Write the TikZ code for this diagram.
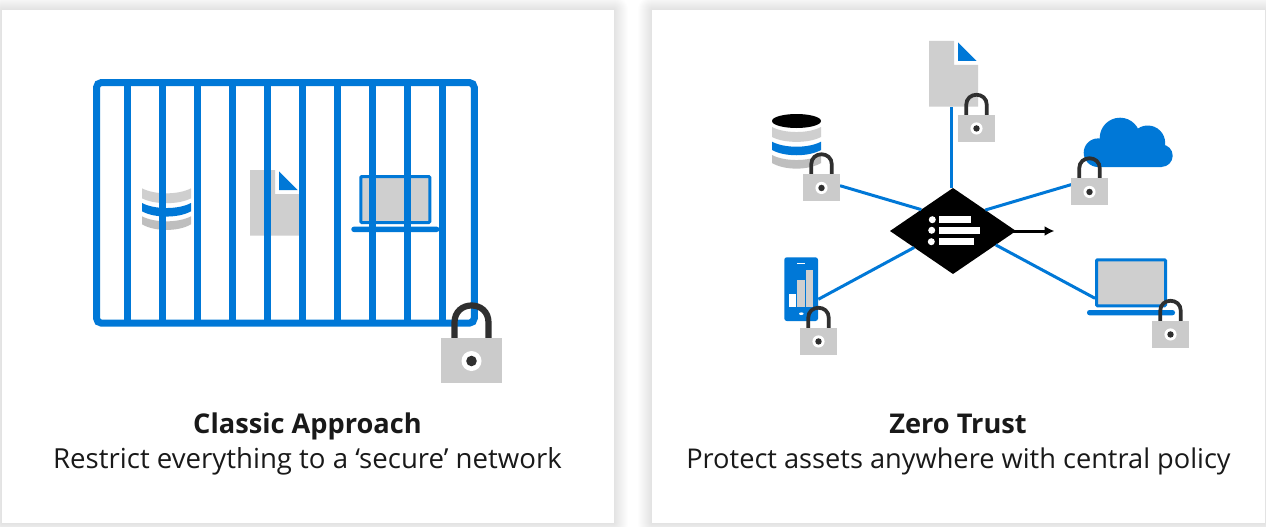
\documentclass[tikz,border=0pt]{standalone}
\usepackage{fontspec}
\setmainfont{Open Sans}
\usepackage{xcolor}
\usetikzlibrary{arrows.meta}
\usetikzlibrary{shapes.geometric}
\definecolor{azure}{HTML}{0078D7}
\definecolor{sheetgrey}{HTML}{CFCFCF}
\definecolor{lowgrey}{HTML}{BEBEBE}
\definecolor{lockgrey}{HTML}{CBCBCB}
\definecolor{shacklegrey}{HTML}{2F2F2F}
\tikzset{
	panel/.style={fill=white, inner sep=0pt},
	wire/.style={azure, line width=3pt},
	caption/.style={font=\fontsize{27.2}{30}\selectfont, text=black!90, inner sep=0pt, anchor=base},
}
% lock: x, y of top centre of body, scale
\newcommand{\padlock}[3]{
	\begin{scope}[shift={(#1,#2)}, scale=#3]
		\draw[shacklegrey, line width=#3*6.2pt] (-17,1) -- (-17,-15.5) .. controls (-17,-38.2) and (17,-38.2) .. (17,-15.5) -- (17,1);
		\fill[lockgrey] (-30.5,0) rectangle (30.5,44.5);
		\fill[white] (0,23) circle (10);
		\fill[shacklegrey] (0,23) circle (5.3);
	\end{scope}
}
% cylinder bands: x, y of top ellipse centre
\newcommand{\dbbands}[2]{
	\begin{scope}[shift={(#1,#2)}]
		\fill[sheetgrey] (-24.5,6) .. controls (-12,12.7) and (12,12.7) .. (24.5,6) -- (24.5,16) .. controls (12,22.5) and (-12,22.5) .. (-24.5,16) -- cycle;
		\fill[azure] (-24.5,20.7) .. controls (-12,27.4) and (12,27.4) .. (24.5,20.7) -- (24.5,29) .. controls (12,36) and (-12,36) .. (-24.5,29) -- cycle;
		\fill[lowgrey] (-24.5,34) .. controls (-12,40.7) and (12,40.7) .. (24.5,34) -- (24.5,42) .. controls (12,49.5) and (-12,49.5) .. (-24.5,42) -- cycle;
	\end{scope}
}
% page with folded corner: x, y of top left
\newcommand{\docsheet}[2]{
	\begin{scope}[shift={(#1,#2)}]
		\fill[sheetgrey] (0,0) -- (25,0) -- (25,24) -- (49,24) -- (49,65.5) -- (0,65.5) -- cycle;
		\fill[azure] (29,1.3) -- (29,20) -- (47.7,20) -- cycle;
	\end{scope}
}
% laptop: x, y of top left of screen
\newcommand{\laptopicon}[2]{
	\begin{scope}[shift={(#1,#2)}]
		\draw[azure, fill=sheetgrey, line width=3pt, rounded corners=1pt] (1.5,1.5) rectangle (70.5,47.5);
		\fill[azure, rounded corners=2.5pt] (-8,51.7) rectangle (80,57);
	\end{scope}
}

\begin{document}
\begin{tikzpicture}[x=1pt, y=-1pt]
	\useasboundingbox (0,0) rectangle (1266,527);
	% shadows
	\foreach \i in {1,...,14} {
		\fill[black, opacity=0.008, rounded corners=\i pt] (2-\i,10-\i) rectangle (614+\i,523+\i);
		\fill[black, opacity=0.008, rounded corners=\i pt] (652-\i,10-\i) rectangle (1265+\i,523+\i);
	}
	% panels
	\node[panel, minimum width=612pt, minimum height=513pt] (classicpanel) at (308,266.5) {};
	\node[panel, minimum width=613pt, minimum height=513pt] (trustpanel) at (958.5,266.5) {};

	% classic side
	\dbbands{166.5}{182.3}
	\docsheet{250}{170}
	\laptopicon{359.3}{175}
	\foreach \x in {127.3,162.3,...,442.3}
		\fill[azure] (\x-3.5,82) rectangle (\x+3.5,324);
	\draw[azure, line width=7pt, rounded corners=5pt] (96.5,82.5) rectangle (474.3,323.2);
	\padlock{471.5}{338}{1}

	% trust side
	\fill[black] (796.5,121) ellipse [x radius=24.5, y radius=7];
	\dbbands{796.5}{121}
	\docsheet{929}{41}
	\laptopicon{1095}{258.3}
	% cloud
	\fill[azure] (1098,152.7) circle (14.3) (1120,138) circle (20.3) (1147.7,143) circle (17.5) (1161.5,155.7) circle (11.2) (1098,167) rectangle (1161.5,145);
	% phone
	\fill[azure, rounded corners=2.5pt] (784.3,257.3) rectangle (818,321);
	\fill[white] (797.3,263) rectangle (804.7,264.4);
	\fill[white] (789.3,294.3) rectangle (796,307);
	\fill[sheetgrey] (797.3,280.3) rectangle (804.7,307);
	\fill[sheetgrey] (806,270.3) rectangle (813.3,307);
	\fill[white] (801.3,313.7) ellipse [x radius=2.3, y radius=1.3];

	% policy
	\node[diamond, fill=black, inner sep=0pt, outer sep=0pt, minimum width=126pt, minimum height=86pt] (policy) at (953,231) {};
	\coordinate (dbport) at (840,185.7);
	\coordinate (fileport) at (951.7,107);
	\coordinate (cloudport) at (1075,183.5);
	\coordinate (laptopport) at (1095,298.3);
	\coordinate (phoneport) at (818.3,299.3);
	\coordinate (exitport) at (1054.5,231);
	\draw[wire] (fileport) -- (fileport |- policy.north);
	\draw[wire] (policy.146) -- (dbport);
	\draw[wire] (policy.33) -- (cloudport);
	\draw[wire] (policy.-18) -- (laptopport);
	\draw[wire] (policy.203) -- (phoneport);
	\draw[-{Latex[length=10pt, width=10pt]}, line width=3pt, shorten <=-3pt] (policy.east) -- (exitport);
	% list on policy
	\fill[white] (932.3,219.7) circle (3.5) (931.7,230.3) circle (3.5) (931.3,241.7) circle (3.5);
	\fill[white] (939,216) rectangle (971,223.3);
	\fill[white] (939,227) rectangle (980,234);
	\fill[white] (939,238) rectangle (974,245);

	% locks
	\padlock{821.5}{174}{0.607}
	\padlock{976.5}{114.5}{0.607}
	\padlock{1170.5}{320.5}{0.607}
	\padlock{818.5}{327.5}{0.607}
	\padlock{1089.5}{178}{0.607}

	% labels
	\node[caption] (classictitle) at (307.5,433) {\textbf{Classic Approach}};
	\node[caption, font=\fontsize{27.6}{30}\selectfont] (classicline) at (307.5,468) {Restrict everything to a ‘secure’ network};
	\node[caption] (trusttitle) at (958,433) {\textbf{Zero Trust}};
	\node[caption] (trustline) at (958.5,468) {Protect assets anywhere with central policy};
\end{tikzpicture}
\end{document}
